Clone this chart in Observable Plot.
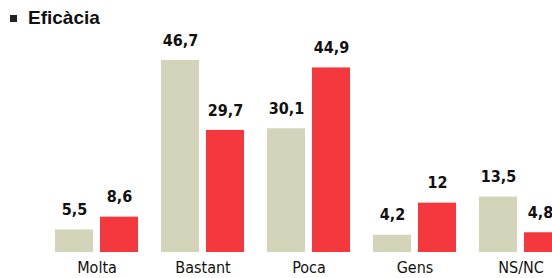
<!DOCTYPE html>
<html>
<head>
<meta charset="utf-8">
<script src="https://cdn.jsdelivr.net/npm/d3@7"></script>
<script src="https://cdn.jsdelivr.net/npm/@observablehq/plot@0.6"></script>
<style>
  html, body { margin: 0; padding: 0; background: #fff; overflow: hidden; }
  #wrap { position: relative; width: 552px; height: 278px; overflow: hidden; }
  #title { position: absolute; left: 10px; top: 7px; font-family: "Liberation Sans", Arial, sans-serif; font-weight: bold; font-size: 19px; line-height: normal; color: #111; }
  #title .sq { display: inline-block; width: 7px; height: 7px; background: #222; margin-right: 11px; vertical-align: 2px; }
  #chart { position: absolute; left: 0; top: 0; }
  #chart svg { max-width: none !important; }
</style>
</head>
<body>
<div id="wrap">
  <div id="chart"></div>
  <div id="title"><span class="sq"></span>Eficàcia</div>
</div>
<script>
const categories = ["Molta", "Bastant", "Poca", "Gens", "NS/NC"];
const series = ["A", "B"];
const valuesA = [5.5, 46.7, 30.1, 4.2, 13.5];
const valuesB = [8.6, 29.7, 44.9, 12, 4.8];
const colors = ["#d4d4ba", "#f4383e"];

const data = [];
categories.forEach((c, i) => {
  data.push({cat: c, s: series[0], v: valuesA[i]});
  data.push({cat: c, s: series[1], v: valuesB[i]});
});
const fmt = v => String(v).replace(".", ",");
const lastCat = categories[categories.length - 1];
const isEdge = d => d.cat === lastCat && d.s === series[1];

const labelOpts = {fx: "cat", x: "s", y: "v", text: d => fmt(d.v), dy: -20, fontWeight: "bold", fontSize: 16, fill: "#111", fontStretch: "condensed"};

const plot = Plot.plot({
  width: 562,
  height: 278,
  marginLeft: 55,
  marginRight: 0,
  marginTop: 0,
  marginBottom: 26,
  fx: {domain: categories, paddingInner: 0.217, paddingOuter: 0, label: null, axis: "bottom", tickSize: 0, tickPadding: 9},
  x: {domain: series, paddingInner: 0.156, paddingOuter: 0, axis: null},
  y: {domain: [0, 61.3], axis: null},
  color: {domain: series, range: colors},
  style: {fontFamily: "'DejaVu Sans', sans-serif", fontStretch: "condensed", fontSize: "16px", color: "#111", maxWidth: "none"},
  marks: [
    Plot.barY(data, {fx: "cat", x: "s", y: "v", fill: "s"}),
    Plot.text(data.filter(d => !isEdge(d)), labelOpts),
    Plot.text(data.filter(isEdge), {...labelOpts, dx: -3})
  ]
});
plot.style.maxWidth = "none";
document.getElementById("chart").appendChild(plot);
</script>
</body>
</html>
